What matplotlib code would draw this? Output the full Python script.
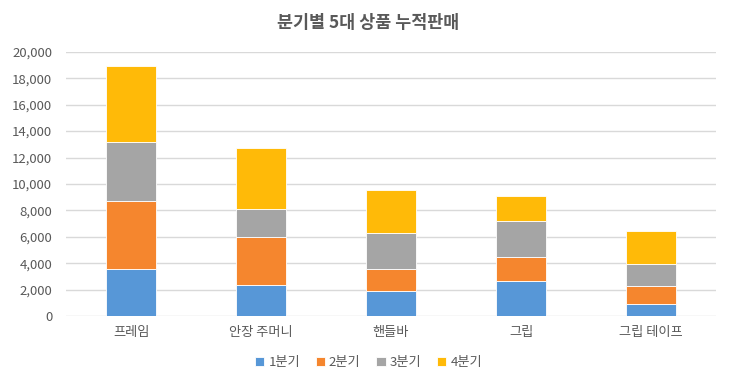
import matplotlib
matplotlib.use("Agg")
import matplotlib.pyplot as plt
import numpy as np
from matplotlib.ticker import FuncFormatter, MultipleLocator

plt.rcParams['font.family'] = ['Noto Sans CJK KR', 'DejaVu Sans']

categories = ["프레임", "안장 주머니", "핸들바", "그립", "그립 테이프"]
series_names = ["1분기", "2분기", "3분기", "4분기"]
q1 = [3600, 2370, 1890, 2640, 960]
q2 = [5100, 3630, 1660, 1840, 1330]
q3 = [4500, 2100, 2720, 2720, 1690]
q4 = [5750, 4600, 3300, 1890, 2470]
colors = ["#5797D7", "#F5862E", "#A5A5A5", "#FFBA08"]

fig = plt.figure(figsize=(7.37, 3.84), dpi=100)
ax = fig.add_axes([0.0896, 0.1763, 0.8819, 0.6891])

x = np.arange(len(categories))
bottom = np.zeros(len(categories))
for name, vals, c in zip(series_names, [q1, q2, q3, q4], colors):
    ax.bar(x, vals, 0.39, bottom=bottom, color=c, label=name,
           edgecolor="white", linewidth=0.6, zorder=3)
    bottom += np.array(vals)

ax.set_xlim(-0.5, len(categories) - 0.5)
ax.set_ylim(0, 20000)
ax.yaxis.set_major_locator(MultipleLocator(2000))
ax.yaxis.set_major_formatter(FuncFormatter(lambda v, p: f"{int(v):,}"))
ax.grid(axis="y", color="#D9D9D9", linewidth=1, zorder=0)
for s in ax.spines.values():
    s.set_visible(False)
ax.tick_params(axis="both", length=0, colors="#595959", labelsize=9.5)
ax.tick_params(axis="y", pad=10)
ax.tick_params(axis="x", pad=7)
ax.set_xticks(x)
ax.set_xticklabels(categories)

fig.text(0.5, 0.94, "분기별 5대 상품 누적판매", ha="center", va="center",
         fontsize=12.5, fontweight="bold", color="#595959")

leg = fig.legend(loc="center", bbox_to_anchor=(0.5, 0.055), ncol=4, frameon=False,
                 fontsize=9.5, handlelength=0.7, handleheight=0.7,
                 handletextpad=0.3, columnspacing=1.2, labelcolor="#595959")

fig.savefig("out.png", dpi=100)
